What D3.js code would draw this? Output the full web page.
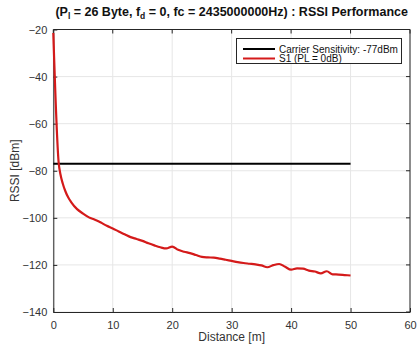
<!DOCTYPE html>
<html><head><meta charset="utf-8">
<script src="https://cdn.jsdelivr.net/npm/d3@7"></script>
<style>
html,body{margin:0;padding:0;background:#fff;}
svg{display:block;font-family:"Liberation Sans",Arial,sans-serif;}
</style></head>
<body><svg id="c" width="420" height="351"></svg>
<script>
const distance = [0, 0.9, 1.2, 1.6, 2, 2.5, 3, 4, 5, 6, 7, 8, 9, 10, 11, 12, 13, 14, 15, 16, 17, 18, 19, 20, 21, 22, 23, 24, 25, 26, 27, 28, 29, 30, 31, 32, 33, 34, 35, 36, 37, 38, 39, 40, 41, 42, 43, 44, 45, 46, 47, 48, 49, 50];
const rssiS1 = [-21.5, -76.5, -81.5, -85.5, -88.5, -91.3, -93.3, -96.3, -98.2, -99.8, -100.8, -102, -103.4, -104.5, -105.8, -107, -108.2, -109, -109.8, -110.8, -111.7, -112.5, -113, -112.2, -113.6, -114.4, -115, -115.8, -116.6, -116.8, -116.9, -117.3, -117.8, -118.3, -118.8, -119.2, -119.5, -119.8, -120.2, -121, -120.1, -119.6, -120.8, -122, -121.5, -121.6, -122.4, -122.8, -123.6, -122.7, -124, -124.1, -124.3, -124.5];
const sensDist = [0, 50];
const sensValue = [-77, -77];
const xTicks = [0, 10, 20, 30, 40, 50, 60];
const yTicks = [-140, -120, -100, -80, -60, -40, -20];
const legendLabels = ["Carrier Sensitivity: -77dBm", "S1 (PL = 0dB)"];
const colors = ["#000000", "#d41a1a"];

const svg = d3.select("#c");
const L = 53.3, R = 410, T = 29.5, B = 312;
const x = d3.scaleLinear().domain([0, 60]).range([L, R]);
const y = d3.scaleLinear().domain([-140, -20]).range([B, T]);
const axisCol = "#262626";

// grid
const g = svg.append("g");
g.selectAll(".gx").data(xTicks).join("line")
  .attr("x1", d => x(d)).attr("x2", d => x(d)).attr("y1", T).attr("y2", B)
  .attr("stroke", "#e6e6e6").attr("stroke-width", 1);
g.selectAll(".gy").data(yTicks).join("line")
  .attr("y1", d => y(d)).attr("y2", d => y(d)).attr("x1", L).attr("x2", R)
  .attr("stroke", "#e6e6e6").attr("stroke-width", 1);

// axes
const xa = svg.append("g").attr("transform", `translate(0,${B})`)
  .call(d3.axisBottom(x).tickValues(xTicks).tickSizeInner(-4).tickSizeOuter(0).tickPadding(9));
const ya = svg.append("g").attr("transform", `translate(${L},0)`)
  .call(d3.axisLeft(y).tickValues(yTicks).tickSizeInner(-4).tickSizeOuter(0).tickPadding(6));
[xa, ya].forEach(a => {
  a.selectAll("path").attr("stroke", axisCol);
  a.selectAll("line").attr("stroke", axisCol);
  a.selectAll("text").attr("fill", "#333").attr("font-size", 11)
    .attr("font-family", "'Liberation Sans',Arial,sans-serif");
});
// top/right box
svg.append("line").attr("x1", L).attr("x2", R).attr("y1", T).attr("y2", T).attr("stroke", axisCol);
svg.append("line").attr("x1", R).attr("x2", R).attr("y1", T).attr("y2", B).attr("stroke", axisCol);
// top & right ticks
svg.selectAll(".tt").data(xTicks).join("line")
  .attr("x1", d => x(d)).attr("x2", d => x(d)).attr("y1", T).attr("y2", T + 4).attr("stroke", axisCol);
svg.selectAll(".rt").data(yTicks).join("line")
  .attr("y1", d => y(d)).attr("y2", d => y(d)).attr("x1", R).attr("x2", R - 4).attr("stroke", axisCol);

// lines
const line = d3.line().x(d => x(d[0])).y(d => y(d[1]));
svg.append("path").datum(d3.zip(sensDist, sensValue)).attr("d", line)
  .attr("fill", "none").attr("stroke", colors[0]).attr("stroke-width", 2);
svg.append("path").datum(d3.zip(distance, rssiS1)).attr("d", line.curve(d3.curveMonotoneX))
  .attr("fill", "none").attr("stroke", colors[1]).attr("stroke-width", 2.2)
  .attr("stroke-linejoin", "round");

// title
const title = svg.append("text").attr("x", (L + R) / 2).attr("y", 16)
  .attr("text-anchor", "middle").attr("font-weight", "bold").attr("font-size", 12.5).attr("fill", "#111");
title.append("tspan").text("(P");
title.append("tspan").attr("font-size", 8.5).attr("dy", 3).text("l");
title.append("tspan").attr("dy", -3).text(" = 26 Byte, f");
title.append("tspan").attr("font-size", 8.5).attr("dy", 3).text("d");
title.append("tspan").attr("dy", -3).text(" = 0, fc = 2435000000Hz) : RSSI Performance");

// axis labels
svg.append("text").attr("x", (L + R) / 2).attr("y", 341).attr("text-anchor", "middle")
  .attr("font-size", 12).attr("fill", "#333").text("Distance [m]");
svg.append("text").attr("transform", `translate(19,${(T + B) / 2}) rotate(-90)`)
  .attr("text-anchor", "middle").attr("font-size", 12).attr("fill", "#333").text("RSSI [dBm]");

// legend
const lg = svg.append("g");
lg.append("rect").attr("x", 236.5).attr("y", 38.5).attr("width", 165).attr("height", 25)
  .attr("fill", "#fff").attr("stroke", axisCol).attr("stroke-width", 1);
legendLabels.forEach((t, i) => {
  const yy = 49 + i * 9.5;
  lg.append("line").attr("x1", 243).attr("x2", 275).attr("y1", yy).attr("y2", yy)
    .attr("stroke", colors[i]).attr("stroke-width", 2);
  lg.append("text").attr("x", 279).attr("y", yy + 3.5).attr("font-size", 10).attr("fill", "#111").text(t);
});
</script></body></html>
